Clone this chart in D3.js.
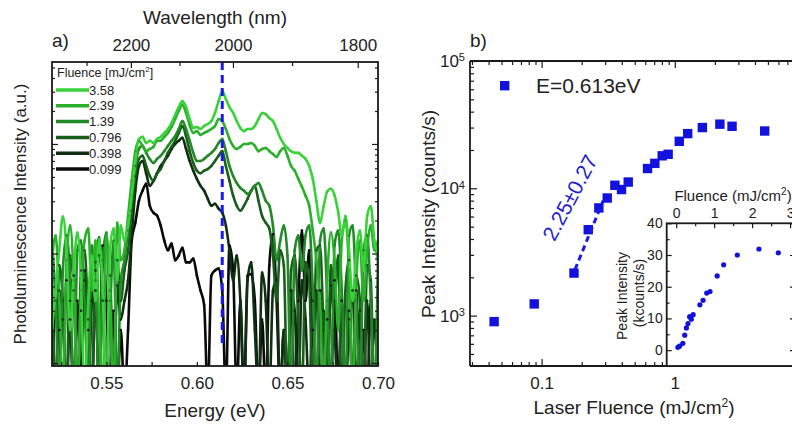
<!DOCTYPE html>
<html><head><meta charset="utf-8">
<script src="https://cdn.jsdelivr.net/npm/d3@7"></script>
<style>body{margin:0;background:#fff}svg{font-family:"Liberation Sans",Arial,sans-serif}</style>
</head><body><svg id="chart" width="792" height="426"></svg>
<script>
// ---------------- DATA ----------------
const energy = [0.52,0.522,0.524,0.526,0.528,0.53,0.532,0.534,0.536,0.538,0.54,0.542,0.544,0.546,0.548,0.55,0.552,0.554,0.556,0.558,0.56,0.562,0.564,0.566,0.568,0.57,0.572,0.574,0.576,0.578,0.58,0.582,0.584,0.586,0.588,0.59,0.592,0.594,0.596,0.598,0.6,0.602,0.604,0.606,0.608,0.61,0.612,0.614,0.616,0.618,0.62,0.622,0.624,0.626,0.628,0.63,0.632,0.634,0.636,0.638,0.64,0.642,0.644,0.646,0.648,0.65,0.652,0.654,0.656,0.658,0.66,0.662,0.664,0.666,0.668,0.67,0.672,0.674,0.676,0.678,0.68,0.682,0.684,0.686,0.688,0.69,0.692,0.694,0.696,0.698,0.7];
const pl358 = [2.0,4.6,10.7,21.7,10.7,2.0,7.0,15.5,5.7,0.5, 3.7,9.6,3.7,13.7,4.6,0.5,10.7,16.9,5.7,18, 13.1,18,33.7,70,111,116,102,107,102,111, 116,126,137,155,184,217,246,217,169,140, 143,137,146,152,162,192,246,303,257,217, 192,162,140,131,137,137,146,169,192,187, 172,162,137,114,100,92,86,83,83,78, 73,63,48,30,19,27,37,39,34,24, 14.6,22,10.7,3.7,10.7,16.2,7.0,22,27,13.1, 8.7];
const pl239 = [8.7,14.6,3.7,0.5,8.7,18,5.7,0.5,4.6,13.1, 16.9,4.6,13.1,2.5,0.5,14.6,4.6,0.5,19.1,8.7, 10.7,22,46,86,107,96,86,90,94,107, 107,116,126,143,169,200,228,192,149,126, 131,121,126,131,137,146,169,162,137,111, 96,90,94,100,100,102,96,86,90,92, 86,81,76,86,92,78,63,57,48,40.6, 33.7,27.3,16.2,8.7,3.7,0.5,5.7,15.5,8.7,2.0, 13.1,20,7.0,0.5,5.7,13.1,3.7,10.7,18,10.7, 13.1];
const pl139 = [13.1,3.7,0.5,7.0,14.6,5.7,0.5,10.7,13.1,3.7, 0.5,11.8,5.7,0.5,8.7,15.5,3.7,13.1,0.5,5.7, 8.7,16.2,33.7,63,90,96,83,73,67,73, 78,86,96,107,118,137,162,137,107,83, 70,70,73,78,83,90,102,111,86,63, 51,44,39.7,37.4,35,37.4,41.5,44,37.4,30.3, 27.3,18,8.7,13.1,18,9.6,0.5,10.7,14.6,7.0, 14.6,18,4.6,0.5,13.1,16.9,3.7,0.5,11.8,16.2, 4.6,0.5,14.6,18,3.7,0.5,10.7,14.6,3.7,0.5, 9.6];
const pl0796 = [5.7,0.5,7.8,3.7,0.5,9.6,4.6,0.5,7.0,10.7, 2.5,0.5,8.3,9.6,3.7,0.5,6.3,0.5,8.7,3.7, 7.0,10.7,24.6,51,73,78,63,51,46,54, 59,70,83,94,107,126,146,118,86,67, 57,54,57,59,63,70,78,86,63,46, 33.7,27.3,24.6,27.3,31.6,37.4,41.5,30.3,22,19.1, 16.9,9.6,3.7,10.7,7.8,0.5,7.0,9.6,2.5,0.5, 8.3,5.7,0.5,10.7,11.8,2.0,0.5,7.8,3.7,9.6, 0.5,4.6,8.7,0.5,6.3,3.7,0.5,7.8,5.7,0.5, 3.7];
const pl0398 = [3.7,0.5,4.6,2.5,0.5,3.7,6.3,0.5,3.0,5.7, 0.5,3.7,7.0,14,3.7,0.5,4.6,0.5,5.1,2.5, 3.7,5.7,14.6,37.4,63,70,54,41.5,46,54, 63,70,78,90,100,107,114,90,70,57, 48,41.5,37.4,31.6,27.3,28.5,25.6,23.6,18,10.7, 5.7,9.6,3.7,0.5,5.7,8.3,2.0,0.5,6.7,3.7, 0.5,4.6,5.7,0.5,2.0,0.5,4.6,3.0,0.5,5.7, 2.5,0.5,3.7,4.6,0.5,3.0,0.5,5.1,2.0,0.5, 3.7,0.5,2.5,4.6,0.5,3.0,0.5,3.7,0.5,2.5, 0.5];
const pl0099 = [0.5,3.7,2.0,0.5,5.7,2.5,0.5,3.7,0.5,7.0, 2.0,0.5,4.6,0.5,11.8,3.7,0.5,3.0,0.5,2.0, 0.5,2.0,13.1,19.1,30.3,37.4,43.3,27.3,23.6,22.2, 18,13.1,10.7,12.3,8.7,9.6,11.3,8.3,8.3,9.0, 6.3,4.6,3.4,0.5,6.3,7.0,7.3,4.6,0.5,11.8, 7.0,0.5,3.7,0.5,6.3,6.5,3.7,0.5,2.5,0.5, 7.8,15,3.7,0.5,2.0,0.5,4.6,0.5,3.7,16.2, 3.7,10.7,2.0,0.5,4.6,0.5,2.5,0.5,5.7,0.5, 3.7,0.5,3.0,0.5,4.6,0.5,2.0,0.5,3.7,0.5, 2.5];
const fluenceLabels = ["3.58","2.39","1.39","0.796","0.398","0.099"];
const peakEnergy = 0.614;
const wlTicks = [2300,2200,2100,2000,1900,1800];
const wlLabeled = [2200,2000,1800];
const eTicks = [0.525,0.55,0.575,0.6,0.625,0.65,0.675,0.7];
const eLabeled = [0.55,0.6,0.65,0.7];

const fluence = [0.044,0.088,0.175,0.224,0.269,0.311,0.355,0.398,0.447,0.624,0.708,0.804,0.891,1.08,1.25,1.61,2.18,2.69,4.73];
const peakIntensity = [897,1236,2158,4730,7010,8390,10560,9780,11200,14300,15700,18000,18500,23400,26900,30000,31900,30700,28200];
const fitFluence = [0.178,0.29];
const fitIntensity = [2300,8000];
const insetXTicks = [0,0.5,1,1.5,2,2.5,3];
const insetYTicks = [0,5,10,15,20,25,30,35,40];

// ---------------- DRAW ----------------
const svg = d3.select('#chart');
const HC = 1239.84;
const spectra = [pl358, pl239, pl139, pl0796, pl0398, pl0099];
const colors = ['#3ad23a','#2cb02c','#238a28','#1a5e1c','#0f2f10','#0a0a0a'];
const frameCol = '#1a1a1a';

const xa = d3.scaleLinear().domain([0.52, 0.70]).range([52, 378]);
const ya = d3.scaleLog().domain([0.94, 560]).range([366, 62]);
const defs = svg.append('defs');
defs.append('clipPath').attr('id','clipA').append('rect')
  .attr('x',52).attr('y',62).attr('width',326).attr('height',304);

const ga = svg.append('g');
const line = d3.line().x((d,i)=>xa(energy[i])).y(d=>ya(d)).curve(d3.curveMonotoneX);
const gl = ga.append('g').attr('clip-path','url(#clipA)');
for (let k = spectra.length-1; k >= 0; k--) {
  gl.append('path').attr('d', line(spectra[k]))
    .attr('fill','none').attr('stroke',colors[k]).attr('stroke-width',2.6).attr('stroke-linejoin','round');
}
// sample points (small, same colour as each spectrum)
for (let k = spectra.length-1; k >= 0; k--) {
  gl.selectAll(null).data(spectra[k]).join('circle')
    .attr('cx',(d,i)=>xa(energy[i])).attr('cy',d=>ya(d)).attr('r',1.3).attr('fill',colors[k]);
}
gl.append('line').attr('x1',xa(peakEnergy)).attr('x2',xa(peakEnergy))
  .attr('y1',ya(560)).attr('y2',ya(1.5))
  .attr('stroke','#1a1aee').attr('stroke-width',3).attr('stroke-dasharray','8,5');

const lg = ga.append('g');
lg.append('text').attr('x',57).attr('y',77).attr('font-size',12.5).attr('fill','#222')
  .html('Fluence [mJ/cm<tspan dy="-5" font-size="8">2</tspan><tspan dy="5">]</tspan>');
fluenceLabels.forEach((t,i)=>{
  const y = 90 + i*15.8;
  lg.append('line').attr('x1',56).attr('x2',89).attr('y1',y).attr('y2',y).attr('stroke',colors[i]).attr('stroke-width',3.5);
  lg.append('text').attr('x',89).attr('y',y+4.5).attr('font-size',13).attr('fill','#222').text(t);
});

const isMajorLog = d => Math.abs(Math.log10(d) - Math.round(Math.log10(d))) < 1e-6;
const cleanAxis = g => { g.select('.domain').remove(); g.selectAll('.tick line').attr('stroke',frameCol).attr('stroke-width',1.2); g.selectAll('text').attr('fill','#222').attr('font-family','"Liberation Sans",Arial,sans-serif'); };

ga.append('g').attr('transform','translate(0,366)')
  .call(d3.axisBottom(xa).tickValues(eTicks).tickSize(0).tickPadding(11)
    .tickFormat(d => eLabeled.some(v=>Math.abs(v-d)<1e-9) ? d3.format('.2f')(d) : ''))
  .call(cleanAxis).call(g=>g.selectAll('.tick line').attr('y2',-4))
  .selectAll('text').attr('font-size',17);

ga.append('g').attr('transform','translate(0,62)')
  .call(d3.axisTop(xa).tickValues(wlTicks.map(w=>HC/w)).tickSize(0).tickPadding(11)
    .tickFormat(e => { const w = Math.round(HC/e); return wlLabeled.includes(w) ? String(w) : ''; }))
  .call(cleanAxis)
  .call(g => g.selectAll('.tick line').attr('y2', e => wlLabeled.includes(Math.round(HC/e)) ? 6 : 4))
  .selectAll('text').attr('font-size',17);

const yaTicks = ya.ticks();
ga.append('g').attr('transform','translate(52,0)')
  .call(d3.axisLeft(ya).tickValues(yaTicks).tickSize(0).tickFormat(''))
  .call(cleanAxis).call(g=>g.selectAll('.tick line').attr('x2', d=> isMajorLog(d)?6:3));
ga.append('g').attr('transform','translate(378,0)')
  .call(d3.axisRight(ya).tickValues(yaTicks).tickSize(0).tickFormat(''))
  .call(cleanAxis).call(g=>g.selectAll('.tick line').attr('x2', d=> isMajorLog(d)?-6:-3));

ga.append('rect').attr('x',52).attr('y',62).attr('width',326).attr('height',304)
  .attr('fill','none').attr('stroke',frameCol).attr('stroke-width',1.8);

ga.append('text').attr('x',215).attr('y',24).attr('text-anchor','middle').attr('font-size',19).attr('fill','#222').text('Wavelength (nm)');
ga.append('text').attr('x',52).attr('y',47).attr('font-size',19).attr('fill','#222').text('a)');
ga.append('text').attr('x',215).attr('y',417).attr('text-anchor','middle').attr('font-size',19).attr('fill','#222').text('Energy (eV)');
ga.append('text').attr('transform','translate(26,214) rotate(-90)').attr('text-anchor','middle').attr('font-size',17).attr('fill','#222').text('Photoluminescence Intensity (a.u.)');

// ===== Panel b =====
const xb = d3.scaleLog().domain([0.029, 10]).range([470, 808]);
const yb = d3.scaleLog().domain([402, 1e5]).range([366, 61]);
const gb = svg.append('g');

const supLabel = function(d){
  const t = d3.select(this); const p = Math.round(Math.log10(d));
  t.text(''); t.append('tspan').text('10'); t.append('tspan').attr('dy','-0.5em').attr('font-size','0.65em').text(p);
};

const gp = gb.append('g');
gp.selectAll('rect.pt').data(fluence).join('rect').attr('class','pt')
  .attr('x',(d)=>xb(d)-4.7).attr('y',(d,i)=>yb(peakIntensity[i])-4.7).attr('width',9.4).attr('height',9.4).attr('fill','#1212dd');
gp.append('path').attr('d', d3.line().x(d=>xb(d)).y((d,i)=>yb(fitIntensity[i]))(fitFluence))
  .attr('stroke','#1a1ae0').attr('stroke-width',3).attr('stroke-dasharray','6,4').attr('fill','none');
gb.append('text').attr('transform',`translate(${xb(0.163)},${yb(8450)}) rotate(-62)`).attr('text-anchor','middle')
  .attr('dy','0.35em').attr('font-size',21).attr('fill','#2222d0').text('2.25±0.27');

gb.append('rect').attr('x',500).attr('y',81).attr('width',9.4).attr('height',9.4).attr('fill','#1212dd');
gb.append('text').attr('x',536).attr('y',93).attr('font-size',21).attr('fill','#222').text('E=0.613eV');

// inset
const xi = d3.scaleLinear().domain([-0.25, 3.13]).range([666.7, 795]);
const yi = d3.scaleLinear().domain([-5, 40]).range([366, 223.3]);
const gi = svg.append('g');
gi.append('rect').attr('x',666.7).attr('y',223.3).attr('width',128.3).attr('height',142.7).attr('fill','#fff');
gi.append('g').selectAll('circle').data(fluence.filter(f => f <= xi.domain()[1])).join('circle')
  .attr('cx',d=>xi(d)).attr('cy',(d,i)=>yi(peakIntensity[i]/1000)).attr('r',2.6).attr('fill','#1212dd');
gi.append('g').attr('transform','translate(0,223.3)')
  .call(d3.axisTop(xi).tickValues(insetXTicks).tickSize(0).tickPadding(5).tickFormat(d=> Number.isInteger(d)? d : ''))
  .call(cleanAxis).call(g=>g.selectAll('.tick line').attr('y2', d=> Number.isInteger(d)?5:3))
  .selectAll('text').attr('font-size',14);
gi.append('g').attr('transform','translate(666.7,0)')
  .call(d3.axisLeft(yi).tickValues(insetYTicks).tickSize(0).tickPadding(4).tickFormat(d=> d%10===0? d : ''))
  .call(cleanAxis).call(g=>g.selectAll('.tick line').attr('x2', d=> d%10===0?5:3))
  .selectAll('text').attr('font-size',14);
gi.append('g').attr('transform','translate(795,0)')
  .call(d3.axisRight(yi).tickValues(insetYTicks).tickSize(0).tickFormat(''))
  .call(cleanAxis).call(g=>g.selectAll('.tick line').attr('x2', d=> d%10===0?-5:-3));
gi.append('rect').attr('x',666.7).attr('y',223.3).attr('width',128.3).attr('height',142.7)
  .attr('fill','none').attr('stroke',frameCol).attr('stroke-width',1.8);
gi.append('text').attr('x',733).attr('y',201).attr('text-anchor','middle').attr('font-size',15).attr('fill','#222')
  .html('Fluence (mJ/cm<tspan dy="-6" font-size="10">2</tspan><tspan dy="6">)</tspan>');
gi.append('text').attr('transform','translate(627,296) rotate(-90)').attr('text-anchor','middle').attr('font-size',14).attr('fill','#222').text('Peak Intensity');
gi.append('text').attr('transform','translate(644,293) rotate(-90)').attr('text-anchor','middle').attr('font-size',14).attr('fill','#222').text('(kcounts/s)');

const xbTicks = xb.ticks();
const ybTicks = yb.ticks();
gb.append('g').attr('transform','translate(0,366)')
  .call(d3.axisBottom(xb).tickValues(xbTicks).tickSize(0).tickPadding(11).tickFormat(d=> (d===0.1||d===1)? String(d) : ''))
  .call(cleanAxis).call(g=>g.selectAll('.tick line').attr('y2', d=> isMajorLog(d)?-7:-4))
  .selectAll('text').attr('font-size',17);
gb.append('g').attr('transform','translate(0,61)')
  .call(d3.axisTop(xb).tickValues(xbTicks).tickSize(0).tickFormat(''))
  .call(cleanAxis).call(g=>g.selectAll('.tick line').attr('y2', d=> isMajorLog(d)?7:4));
gb.append('g').attr('transform','translate(470,0)')
  .call(d3.axisLeft(yb).tickValues(ybTicks).tickSize(0).tickPadding(5).tickFormat(d=> isMajorLog(d)? 'x' : ''))
  .call(cleanAxis).call(g=>g.selectAll('.tick line').attr('x2', d=> isMajorLog(d)?7:4))
  .call(g=>g.selectAll('.tick text').filter(d=>isMajorLog(d)).attr('font-size',17).each(supLabel));
gb.append('line').attr('x1',470).attr('x2',808).attr('y1',366).attr('y2',366).attr('stroke',frameCol).attr('stroke-width',1.8);
gb.append('line').attr('x1',470).attr('x2',808).attr('y1',61).attr('y2',61).attr('stroke',frameCol).attr('stroke-width',1.8);
gb.append('line').attr('x1',470).attr('x2',470).attr('y1',61).attr('y2',366).attr('stroke',frameCol).attr('stroke-width',1.8);

gb.append('text').attr('x',470).attr('y',47).attr('font-size',19).attr('fill','#222').text('b)');
gb.append('text').attr('x',634).attr('y',414).attr('text-anchor','middle').attr('font-size',19).attr('fill','#222')
  .html('Laser Fluence (mJ/cm<tspan dy="-7" font-size="12">2</tspan><tspan dy="7">)</tspan>');
gb.append('text').attr('transform','translate(435,214) rotate(-90)').attr('text-anchor','middle').attr('font-size',19).attr('fill','#222').text('Peak Intensity (counts/s)');
</script></body></html>
